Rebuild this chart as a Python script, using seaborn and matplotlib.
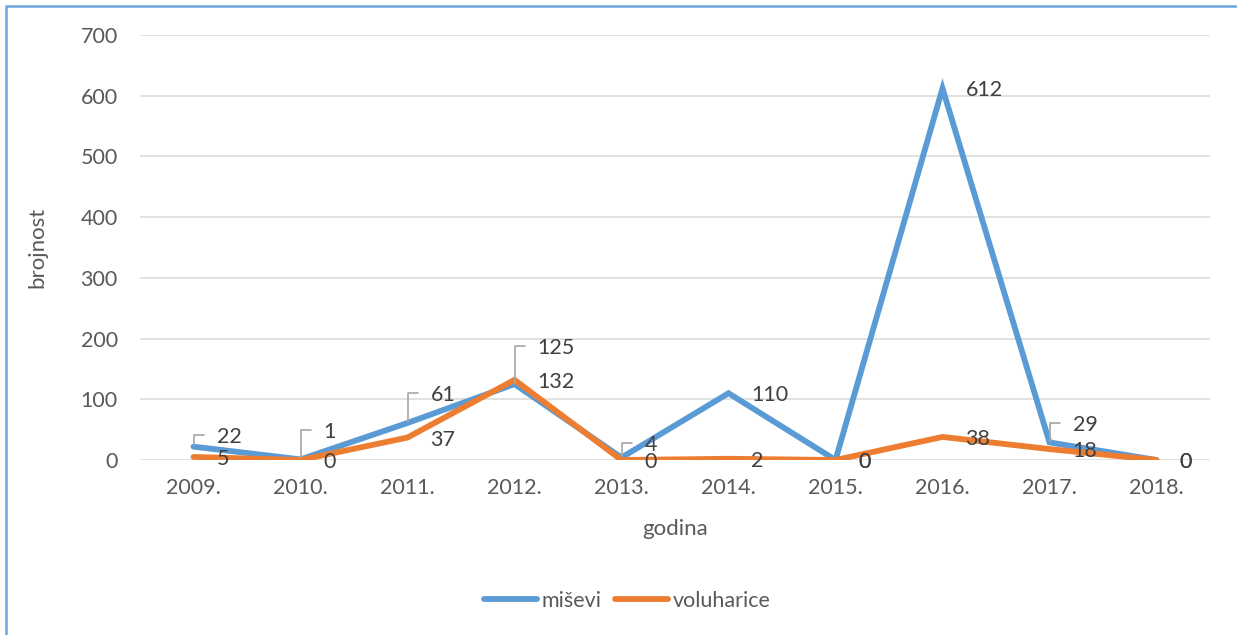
import numpy as np
import pandas as pd
import seaborn as sns
import matplotlib.pyplot as plt
from matplotlib.lines import Line2D
from matplotlib.patches import Rectangle

# podaci
godine = ['2009.', '2010.', '2011.', '2012.', '2013.', '2014.', '2015.', '2016.', '2017.', '2018.']
misevi = [22, 1, 61, 125, 4, 110, 0, 612, 29, 0]
voluharice = [5, 0, 37, 132, 0, 2, 0, 38, 18, 0]
vrste = ['miševi', 'voluharice']

df = pd.DataFrame({
    'godina': godine * 2,
    'brojnost': misevi + voluharice,
    'vrsta': [vrste[0]] * len(godine) + [vrste[1]] * len(godine),
})

boje = {'miševi': '#5B9BD5', 'voluharice': '#ED7D31'}
# labels moved up (pixels) with a leader line, like in Excel
podignuto = {('miševi', 0): 10, ('miševi', 1): 27, ('miševi', 2): 28,
             ('miševi', 3): 36, ('miševi', 4): 13, ('miševi', 8): 17}

sns.set_style('white')
plt.rcParams['font.family'] = ['Lato', 'DejaVu Sans']
fs = 15.5

fig = plt.figure(figsize=(12.37, 6.35), dpi=100)
ax = fig.add_axes([140 / 1237, 175 / 635, 1070 / 1237, 425 / 635])

sns.lineplot(data=df, x='godina', y='brojnost', hue='vrsta', palette=boje,
             lw=4.2, ax=ax, legend=False, sort=False, solid_capstyle='round',
             solid_joinstyle='miter')

ax.set_xlim(-0.5, len(godine) - 0.5)
ax.set_ylim(0, 700)
ax.set_yticks(np.arange(0, 701, 100))
ax.grid(axis='y', color='#d9d9d9', lw=1.1)
ax.grid(axis='x', visible=False)
ax.set_axisbelow(True)
for s in ax.spines.values():
    s.set_visible(False)
ax.tick_params(axis='y', length=0, pad=16, labelsize=fs, labelcolor='#595959')
ax.tick_params(axis='x', length=0, pad=13, labelsize=fs, labelcolor='#595959')
ax.set_xlabel('godina', fontsize=fs + 0.5, color='#595959', labelpad=15)
ax.set_ylabel('brojnost', fontsize=fs + 0.5, color='#595959', labelpad=24)

# data labels
for vrsta, vals in zip(vrste, [misevi, voluharice]):
    for i, v in enumerate(vals):
        lift = podignuto.get((vrsta, i), 0)
        if lift:
            ax.annotate(str(v), xy=(i, v), xytext=(23, lift), textcoords='offset pixels',
                        ha='left', va='center', fontsize=fs, color='#404040',
                        arrowprops=dict(arrowstyle='-', color='#a6a6a6', lw=1.2,
                                        connectionstyle='angle,angleA=0,angleB=90,rad=0',
                                        relpos=(0, 0.6), shrinkA=6.5, shrinkB=1))
        else:
            ax.annotate(str(v), xy=(i, v), xytext=(23, -2), textcoords='offset pixels',
                        ha='left', va='center', fontsize=fs, color='#404040')

handles = [Line2D([0], [0], color=boje[v], lw=4.2, solid_capstyle='round') for v in vrste]
fig.legend(handles, vrste, loc='center', bbox_to_anchor=(0.507, 1 - 601 / 635), ncol=2,
           frameon=False, handlelength=2.5, handletextpad=0.2, columnspacing=0.6,
           fontsize=fs, labelcolor='#595959')

# chart border
fig.patches.append(Rectangle((6 / 1237, -0.05), 1.1, 1 - 5.5 / 635 + 0.05,
                             transform=fig.transFigure, fill=False,
                             edgecolor='#6fa5dc', lw=1.8))

plt.savefig('out.png', dpi=100)
